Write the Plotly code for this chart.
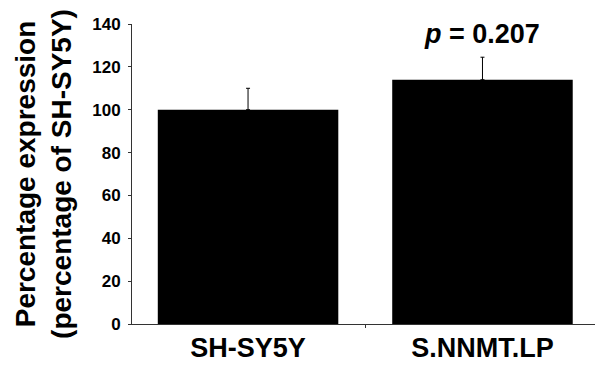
import plotly.graph_objects as go

categories = ["SH-SY5Y", "S.NNMT.LP"]
values = [100, 114]
errors = [10, 10.5]
p_labels = ["", "p = 0.207"]

FONT = "Liberation Sans, Arial, sans-serif"

fig = go.Figure()
fig.add_trace(go.Bar(
    x=categories, y=values,
    marker=dict(color="black", line=dict(color="black", width=0)),
    width=0.77,
    error_y=dict(type="data", array=errors, symmetric=False, arrayminus=[0, 0],
                 color="black", thickness=1, width=2, visible=True),
    showlegend=False,
))

for c, v, e, p in zip(categories, values, errors, p_labels):
    if p:
        txt = "<b><i>p</i> = " + p.split("= ")[1] + "</b>"
        fig.add_annotation(x=c, y=v + e + 11, xref="x", yref="y", text=txt,
                           showarrow=False, yanchor="middle",
                           font=dict(family=FONT, size=27, color="black"))

fig.update_layout(
    width=595, height=367,
    margin=dict(l=132, r=0, t=24, b=43),
    paper_bgcolor="white", plot_bgcolor="white",
    font=dict(family=FONT, color="black"),
)
fig.update_xaxes(
    range=[-0.495, 1.48], automargin=False,
    showline=True, linecolor="#333", linewidth=1,
    ticks="outside", tickson="boundaries", ticklen=3, tickcolor="#333",
    tickfont=dict(family=FONT, size=27, weight="bold", color="black"),
    showgrid=False, zeroline=False,
)
fig.update_yaxes(
    range=[0, 140], dtick=20, automargin=False,
    showline=True, linecolor="#333", linewidth=1,
    ticks="outside", ticklen=3, tickcolor="#333", ticklabelstandoff=4,
    tickfont=dict(family=FONT, size=17, weight="bold", color="black"),
    showgrid=False, zeroline=False,
    title=dict(text="<b>Percentage expression<br>(percentage of SH-SY5Y)</b>",
               font=dict(family=FONT, size=28, color="black"), standoff=12),
)

fig.write_html("out.html", config={"displayModeBar": False},
               post_script="document.body.style.margin='0';document.body.style.overflow='hidden';")
